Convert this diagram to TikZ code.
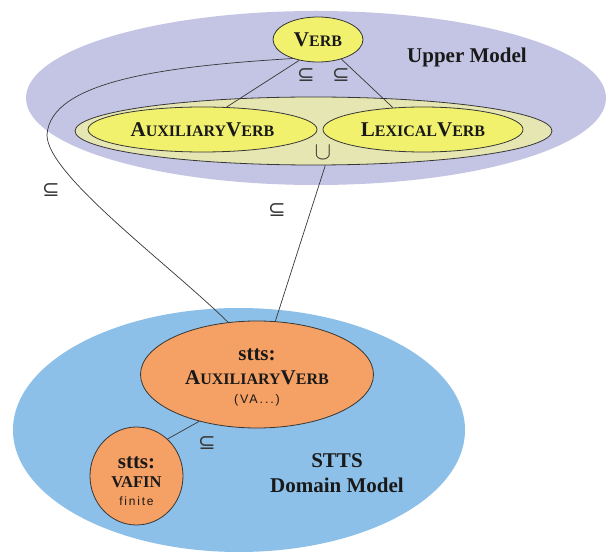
\documentclass[tikz,border=0pt]{standalone}
\usepackage{fontspec}
\setmainfont{Liberation Serif}
\newfontfamily\labsans[LetterSpace=15]{Liberation Sans}
\newfontfamily\symfam{DejaVu Sans}
\usetikzlibrary{shapes.geometric}
\definecolor{umpurple}{RGB}{196,196,228}
\definecolor{stblue}{RGB}{141,192,232}
\definecolor{paleyel}{RGB}{229,230,178}
\definecolor{nodeyel}{RGB}{241,241,110}
\definecolor{nodeorg}{RGB}{245,160,100}
\definecolor{edgegray}{RGB}{55,55,55}
\definecolor{txtblack}{RGB}{25,25,25}
\newcommand{\fsz}[1]{\fontsize{#1}{#1}\selectfont}
\newcommand{\scwd}[2]{{\fsz{21}#1}{\fsz{16}#2}}
\begin{document}
\begin{tikzpicture}[x=1pt,y=-1pt,
  region/.style={ellipse, draw=none, inner sep=0pt},
  concept/.style={ellipse, draw=edgegray, line width=0.8pt, inner sep=0pt,
     text=txtblack, font=\bfseries},
  conn/.style={draw=edgegray, line width=0.7pt},
  rel/.style={inner sep=0pt, text=edgegray, font=\symfam\fsz{21}},
  txt/.style={inner sep=0pt, text=txtblack, align=center}]
\useasboundingbox (0,0) rectangle (606,553);
\fill[white] (0,0) rectangle (606,553);

% regions
\node[region, fill=umpurple, minimum width=580pt, minimum height=174pt] (upper) at (316,98) {};
\node[region, fill=stblue, minimum width=452pt, minimum height=244pt] (domain) at (239,430) {};

\node[txt, font=\bfseries\fsz{21}] (uplabel) at (467,57) {Upper Model};
\node[txt, font=\bfseries\fontsize{21}{25}\selectfont] (domlabel) at (337,473) {STTS\\Domain Model};

% upper model concepts
\node[concept, fill=paleyel, minimum width=477pt, minimum height=68pt] (union) at (313.5,131) {};
\node[concept, fill=nodeyel, minimum width=229pt, minimum height=45pt] (auxy) at (202.5,129.5) {\scwd{A}{UXILIARY}\scwd{V}{ERB}};
\node[concept, fill=nodeyel, minimum width=200pt, minimum height=45pt] (lexy) at (423,129.5) {\scwd{L}{EXICAL}\scwd{V}{ERB}};
\node[concept, fill=nodeyel, minimum width=90pt, minimum height=45pt] (verb) at (318,39.5) {\scwd{V}{ERB}};
\node[inner sep=0pt, text=edgegray, font=\fsz{24}] (cupsym) at (323,153) {$\cup$};

% domain concepts
\node[concept, fill=nodeorg, minimum width=233pt, minimum height=107pt] (saux) at (257,374.5) {};
\node[concept, fill=nodeorg, minimum width=93pt, minimum height=98pt] (vafin) at (136.5,476) {};
\node[txt, font=\fontsize{12}{24}\selectfont] (sauxtext) at (257,377) {{\bfseries\fsz{21}stts:}\\
  {\bfseries\scwd{A}{UXILIARY}\scwd{V}{ERB}}\\[-5pt]
  {\labsans\fsz{12.5}(VA...)}};
\node[txt, font=\fontsize{12}{19.5}\selectfont] (vafintext) at (136.5,481) {{\bfseries\fsz{21}stts:}\\
  {\bfseries\fsz{16.5}VAFIN}\\[-1.5pt]
  {\labsans\fsz{12}finite}};

% connectors
\draw[conn] (verb.228) -- (auxy.43);
\draw[conn] (verb.-40) -- (lexy.144);
\draw[conn] (verb.217) .. controls (170,66) and (50,80) .. (47,135)
   .. controls (47,175) and (170,265) .. (saux.119);
\draw[conn] (union.-71) -- (saux.71);
\draw[conn] (saux.219) -- (vafin.50);

% relation labels
\node[rel] (r1) at (306,75) {⊆};
\node[rel] (r2) at (341,75) {⊆};
\node[rel] (r3) at (51,190) {⊆};
\node[rel] (r4) at (277,210) {⊆};
\node[rel] (r5) at (207,443) {⊆};
\end{tikzpicture}
\end{document}
